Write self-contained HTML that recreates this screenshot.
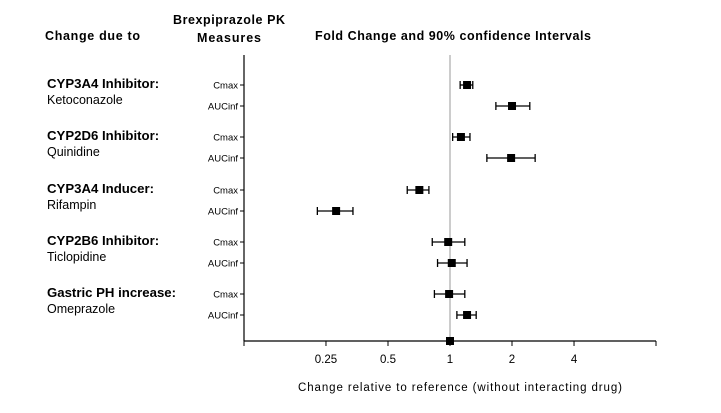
<!DOCTYPE html>
<html><head><meta charset="utf-8"><style>
body{margin:0;background:#fff;}
svg{display:block;font-family:"Liberation Sans",Arial,sans-serif;}
</style></head><body>
<svg id="c" width="721" height="413">
<text x="45" y="40" font-size="12.5" font-weight="bold" textLength="95" lengthAdjust="spacing">Change due to</text>
<text x="173" y="24" font-size="12.5" font-weight="bold" textLength="112" lengthAdjust="spacing">Brexpiprazole PK</text>
<text x="197" y="42" font-size="12.5" font-weight="bold" textLength="64" lengthAdjust="spacing">Measures</text>
<text x="315" y="40" font-size="12.5" font-weight="bold" textLength="276" lengthAdjust="spacing">Fold Change and 90% confidence Intervals</text>
<text x="298" y="391" font-size="11.5" textLength="324" lengthAdjust="spacing">Change relative to reference (without interacting drug)</text>
<g id="plot"></g>
</svg>
<script>
const groups=["CYP3A4 Inhibitor:","CYP2D6 Inhibitor:","CYP3A4 Inducer:","CYP2B6 Inhibitor:","Gastric PH increase:"];
const drugs=["Ketoconazole","Quinidine","Rifampin","Ticlopidine","Omeprazole"];
const measures=["Cmax","AUCinf","Cmax","AUCinf","Cmax","AUCinf","Cmax","AUCinf","Cmax","AUCinf"];
const est=[1.21,2.0,1.13,1.98,0.71,0.28,0.98,1.02,0.99,1.21];
const lower=[1.12,1.67,1.03,1.51,0.62,0.227,0.82,0.87,0.84,1.08];
const upper=[1.29,2.44,1.25,2.59,0.79,0.338,1.18,1.21,1.18,1.34];
const ticks=[0.25,0.5,1,2,4];
const tickLabels=["0.25","0.5","1","2","4"];
const NS="http://www.w3.org/2000/svg";
const g=document.getElementById('plot');
const X0=244,X1=656,Y0=55,Y1=341;
function xs(v){return X0+(Math.log10(v)+1)/2*(X1-X0);}
function ys(i){const base=[85,137,190,242,294];return base[Math.floor(i/2)]+(i%2)*21;}
function mk(tag,attrs,name,txt){const e=document.createElementNS(NS,tag);for(const k in attrs)e.setAttribute(k,attrs[k]);


if(txt!==undefined)e.textContent=txt;g.appendChild(e);return e;}
mk('line',{x1:xs(1),x2:xs(1),y1:Y0,y2:Y1,stroke:'#bbb','stroke-width':1.5},'reference-line');
mk('line',{x1:X0,x2:X0,y1:Y0,y2:Y1,stroke:'#000','stroke-width':1.2},'y-axis');
mk('line',{x1:X0,x2:X1,y1:Y1,y2:Y1,stroke:'#000','stroke-width':1.2},'x-axis');
mk('line',{x1:X0,x2:X0,y1:Y1,y2:Y1+5,stroke:'#000'},'x-tick-end');
mk('line',{x1:X1,x2:X1,y1:Y1,y2:Y1+5,stroke:'#000'},'x-tick-end');
ticks.forEach((t,i)=>{mk('line',{x1:xs(t),x2:xs(t),y1:Y1,y2:Y1+5,stroke:'#000'},'x-tick');
mk('text',{x:xs(t),y:Y1+22,'font-size':11.5,'text-anchor':'middle'},'x-tick-label',tickLabels[i]);});
groups.forEach((gr,i)=>{const y=ys(i*2);
mk('text',{x:47,y:y+3,'font-size':13.2,'font-weight':'bold'},'group-label',gr);
mk('text',{x:47,y:y+19,'font-size':12.5},'drug-label',drugs[i]);});
measures.forEach((m,i)=>{const y=ys(i);
mk('line',{x1:X0-4,x2:X0,y1:y,y2:y,stroke:'#000'},'y-tick');
mk('text',{x:X0-6,y:y+3.5,'font-size':9.5,'text-anchor':'end'},'measure-label',m);
mk('line',{x1:xs(lower[i]),x2:xs(upper[i]),y1:y,y2:y,stroke:'#000','stroke-width':1.3},'ci-line');
mk('line',{x1:xs(lower[i]),x2:xs(lower[i]),y1:y-4,y2:y+4,stroke:'#000','stroke-width':1.3},'ci-cap');
mk('line',{x1:xs(upper[i]),x2:xs(upper[i]),y1:y-4,y2:y+4,stroke:'#000','stroke-width':1.3},'ci-cap');
mk('rect',{x:xs(est[i])-4,y:y-4,width:8,height:8,fill:'#000'},'point-estimate');});
mk('rect',{x:xs(1)-4,y:Y1-4,width:8,height:8,fill:'#000'},'reference-marker');
</script>
</body></html>
